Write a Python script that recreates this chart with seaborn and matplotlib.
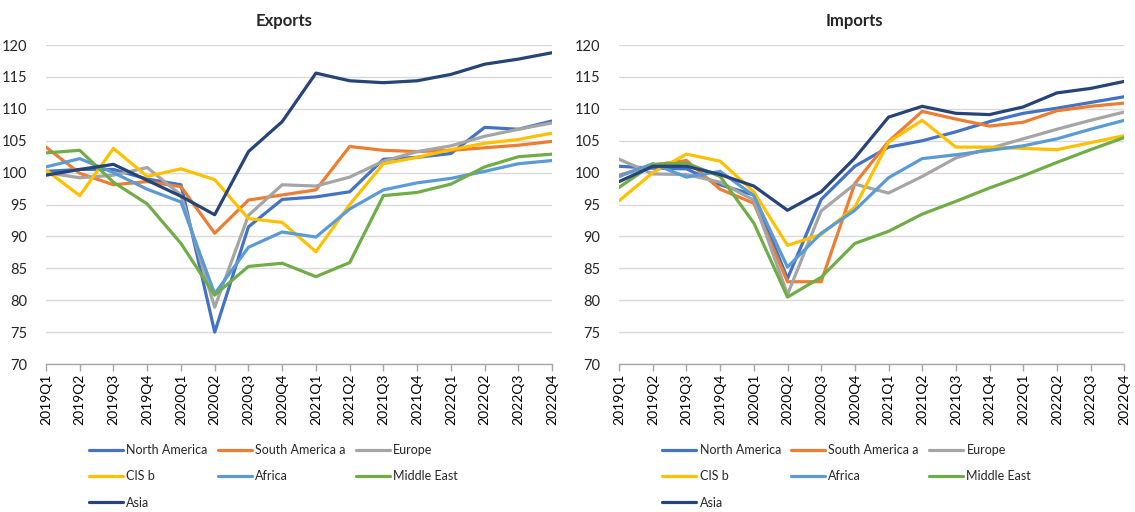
import pandas as pd
import seaborn as sns
import matplotlib.pyplot as plt

quarters = ['2019Q1', '2019Q2', '2019Q3', '2019Q4', '2020Q1', '2020Q2', '2020Q3', '2020Q4',
            '2021Q1', '2021Q2', '2021Q3', '2021Q4', '2022Q1', '2022Q2', '2022Q3', '2022Q4']
regions = ['North America', 'South America a', 'Europe', 'CIS b', 'Africa', 'Middle East', 'Asia']
colors = ['#4472C4', '#ED7D31', '#A5A5A5', '#FFC000', '#5B9BD5', '#70AD47', '#264478']

# export volume index, 2019 = 100
exp_north_america = [100.2, 100.5, 100.5, 99.0, 98.1, 75.0, 91.5, 95.8, 96.2, 97.0, 102.1, 102.4, 103.0, 107.1, 106.8, 108.1]
exp_south_america = [104.0, 99.9, 98.1, 98.6, 97.8, 90.5, 95.7, 96.5, 97.3, 104.1, 103.5, 103.3, 103.5, 103.9, 104.3, 104.9]
exp_europe = [100.0, 99.2, 99.6, 100.8, 96.5, 78.9, 93.3, 98.1, 97.9, 99.3, 101.8, 103.3, 104.2, 105.7, 106.8, 107.8]
exp_cis = [100.4, 96.4, 103.8, 99.4, 100.6, 98.9, 92.8, 92.2, 87.6, 95.0, 101.4, 102.4, 103.6, 104.6, 105.2, 106.2]
exp_africa = [100.9, 102.2, 100.0, 97.4, 95.4, 81.0, 88.3, 90.7, 89.9, 94.3, 97.3, 98.4, 99.1, 100.2, 101.4, 101.9]
exp_middle_east = [103.1, 103.5, 98.5, 95.1, 88.9, 80.8, 85.3, 85.8, 83.7, 85.9, 96.4, 96.9, 98.2, 100.9, 102.5, 102.9]
exp_asia = [99.6, 100.5, 101.3, 98.8, 96.3, 93.4, 103.3, 108.0, 115.6, 114.4, 114.1, 114.4, 115.4, 117.0, 117.8, 118.8]

# import volume index, 2019 = 100
imp_north_america = [101.0, 100.7, 100.6, 98.1, 96.5, 83.4, 95.8, 101.0, 104.0, 105.0, 106.4, 108.0, 109.3, 110.1, 111.0, 111.9]
imp_south_america = [99.6, 101.2, 101.9, 97.4, 95.2, 82.9, 82.9, 98.3, 104.9, 109.6, 108.4, 107.3, 107.9, 109.7, 110.4, 110.9]
imp_europe = [102.1, 99.8, 99.7, 98.5, 95.7, 80.9, 94.0, 98.2, 96.8, 99.4, 102.3, 103.8, 105.3, 106.8, 108.2, 109.5]
imp_cis = [95.6, 100.0, 102.9, 101.8, 97.0, 88.6, 90.3, 94.6, 104.8, 108.2, 104.0, 104.0, 103.8, 103.6, 104.7, 105.8]
imp_africa = [99.4, 101.4, 99.3, 100.2, 96.4, 85.2, 90.5, 94.1, 99.2, 102.2, 102.8, 103.5, 104.2, 105.3, 106.8, 108.2]
imp_middle_east = [97.7, 101.3, 101.5, 99.4, 92.1, 80.5, 83.6, 88.9, 90.8, 93.5, 95.5, 97.6, 99.5, 101.6, 103.6, 105.5]
imp_asia = [98.6, 101.0, 101.0, 99.7, 97.9, 94.1, 97.0, 102.3, 108.7, 110.4, 109.3, 109.1, 110.3, 112.5, 113.2, 114.3]

exports = [exp_north_america, exp_south_america, exp_europe, exp_cis, exp_africa, exp_middle_east, exp_asia]
imports = [imp_north_america, imp_south_america, imp_europe, imp_cis, imp_africa, imp_middle_east, imp_asia]


def to_long(series):
    rows = []
    for name, vals in zip(regions, series):
        for q, v in zip(quarters, vals):
            rows.append({'Quarter': q, 'Region': name, 'Index': v})
    return pd.DataFrame(rows)


sns.set_style('white')
plt.rcParams['font.family'] = ['Lato', 'DejaVu Sans']

fig = plt.figure(figsize=(11.35, 5.12), dpi=100)
ax1 = fig.add_axes([0.0405, 0.289, 0.446, 0.623])
ax2 = fig.add_axes([0.5455, 0.289, 0.445, 0.623])
palette = dict(zip(regions, colors))

# legend is filled column by column, so reorder to read row by row (3 per row)
legend_order = [0, 3, 6, 1, 4, 2, 5]

for ax, series, title, tx in [(ax1, exports, 'Exports', 0.25), (ax2, imports, 'Imports', 0.753)]:
    df = to_long(series)
    sns.lineplot(data=df, x='Quarter', y='Index', hue='Region', hue_order=regions,
                 palette=palette, linewidth=2.3, sort=False, ax=ax)
    ax.set_xlim(0, len(quarters) - 1)
    ax.set_ylim(70, 120)
    ax.set_yticks(range(70, 121, 5))
    ax.yaxis.grid(True, color='#D9D9D9', linewidth=1)
    ax.set_axisbelow(True)
    ax.set_xlabel('')
    ax.set_ylabel('')
    for s in ['left', 'top', 'right']:
        ax.spines[s].set_visible(False)
    ax.spines['bottom'].set_color('#A6A6A6')
    ax.spines['bottom'].set_linewidth(1)
    ax.tick_params(axis='x', rotation=90, labelsize=10, colors='#A6A6A6',
                   bottom=True, length=5, width=1, pad=2)
    ax.tick_params(axis='y', labelsize=10.5, left=False, pad=10)
    for lab in ax.get_xticklabels():
        lab.set_color('black')
    fig.text(tx, 0.975, title, ha='center', va='top', fontsize=12, fontweight='bold')
    handles, labels = ax.get_legend_handles_labels()
    ax.legend([handles[i] for i in legend_order], [labels[i] for i in legend_order],
              loc='upper left', bbox_to_anchor=(0.075, -0.235), ncol=3, frameon=False,
              fontsize=9, handlelength=2.7, handletextpad=0.3, columnspacing=0.8,
              labelspacing=1.15, borderaxespad=0)

fig.savefig('out.png', dpi=100)
